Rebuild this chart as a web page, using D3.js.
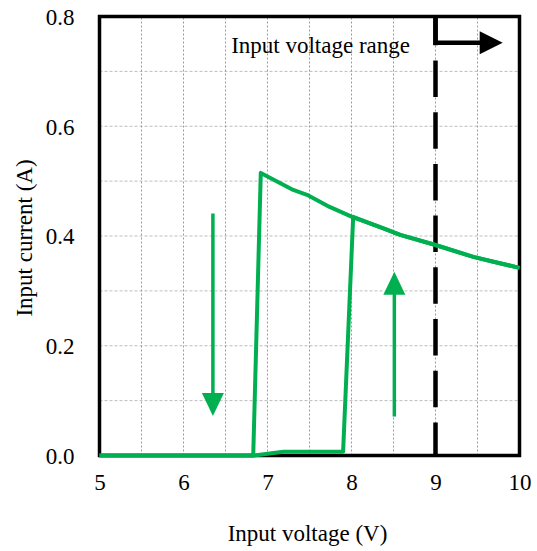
<!DOCTYPE html>
<html><head><meta charset="utf-8">
<script src="https://cdn.jsdelivr.net/npm/d3@7"></script>
<style>
html,body{margin:0;padding:0;background:#fff;}
svg{display:block;}
svg text{font-family:"Liberation Serif","Times New Roman",serif !important;fill:#000;}
</style></head>
<body>
<svg id="c" width="537" height="551"></svg>
<script>
// Data
const xTicks = [5, 6, 7, 8, 9, 10];
const yTicks = [0, 0.2, 0.4, 0.6, 0.8];
const xGrid = [5.5, 6, 6.5, 7, 7.5, 8, 8.5, 9, 9.5];
const yGrid = [0.1, 0.2, 0.3, 0.4, 0.5, 0.6, 0.7];
// Sweep down (decreasing input voltage)
const downV = [10, 9.69, 9.45, 8.99, 8.58, 8.38, 8.22, 8.02, 7.74, 7.47, 7.29, 6.92, 6.83, 5];
const downI = [0.342, 0.353, 0.362, 0.384, 0.402, 0.414, 0.423, 0.434, 0.453, 0.475, 0.485, 0.515, 0, 0];
// Sweep up (increasing input voltage)
const upV = [5, 6.83, 7.19, 7.90, 8.02, 8.22, 8.38, 8.58, 8.99, 9.45, 9.69, 10];
const upI = [0, 0, 0.007, 0.007, 0.435, 0.423, 0.414, 0.402, 0.384, 0.362, 0.353, 0.342];
// Direction arrows [V, I start, I end]
const arrowDown = [6.35, 0.441, 0.072];
const arrowUp = [8.51, 0.071, 0.335];
// Input voltage range marker
const rangeV = 9;
const rangeArrow = [9, 9.80, 0.752];
const rangeLabel = "Input voltage range";
const xTitle = "Input voltage (V)";
const yTitle = "Input current (A)";

const FS = 23;
const svg = d3.select("#c");
const x = d3.scaleLinear().domain([5, 10]).range([99.5, 519.5]);
const y = d3.scaleLinear().domain([0, 0.8]).range([455.5, 16.5]);
const green = "#00B050";

// grid
svg.append("g").selectAll("line").data(yGrid).join("line")
  .attr("x1", x(5)).attr("x2", x(10)).attr("y1", d => y(d)).attr("y2", d => y(d))
  .attr("stroke", "#bdbdbd").attr("stroke-width", 1).attr("stroke-dasharray", "3,2");
svg.append("g").selectAll("line").data(xGrid).join("line")
  .attr("y1", y(0)).attr("y2", y(0.8)).attr("x1", d => x(d)).attr("x2", d => x(d))
  .attr("stroke", "#9a9a9a").attr("stroke-width", 1).attr("stroke-dasharray", "2,2");

// axes (labels only; frame drawn separately)
const xAxis = d3.axisBottom(x).tickValues(xTicks).tickSize(0).tickFormat(d3.format("d"));
const gx = svg.append("g").attr("transform", `translate(0,${y(0)})`).call(xAxis)
  .attr("font-family", null).attr("font-size", null);
gx.select(".domain").remove();
gx.selectAll("text").attr("font-size", FS).attr("y", 34.5).attr("dy", null);

const yAxis = d3.axisLeft(y).tickValues(yTicks).tickSize(0).tickFormat(d3.format(".1f"));
const gy = svg.append("g").attr("transform", `translate(${x(5)},0)`).call(yAxis)
  .attr("font-family", null).attr("font-size", null);
gy.select(".domain").remove();
gy.selectAll("text").attr("font-size", FS).attr("x", -25).attr("dy", "0.34em");

// frame
svg.append("rect").attr("x", x(5)).attr("y", y(0.8))
  .attr("width", x(10) - x(5)).attr("height", y(0) - y(0.8))
  .attr("fill", "none").attr("stroke", "#000").attr("stroke-width", 3.5);

// range dashed line
svg.append("line").attr("x1", x(rangeV)).attr("x2", x(rangeV)).attr("y1", y(0.8)).attr("y2", y(0))
  .attr("stroke", "#000").attr("stroke-width", 4.5)
  .attr("stroke-dasharray", "36.5,15.2").attr("stroke-dashoffset", 7.7);
// bracket + arrow
const headLen = 23, headH = 23;
svg.append("path")
  .attr("d", `M${x(rangeArrow[0])},${y(0.8)}V${y(rangeArrow[2])}H${x(rangeArrow[1]) - headLen + 1}`)
  .attr("fill", "none").attr("stroke", "#000").attr("stroke-width", 4.5);
svg.append("path")
  .attr("d", `M${x(rangeArrow[1])},${y(rangeArrow[2])}L${x(rangeArrow[1]) - headLen},${y(rangeArrow[2]) - headH / 2}L${x(rangeArrow[1]) - headLen},${y(rangeArrow[2]) + headH / 2}Z`)
  .attr("fill", "#000");
svg.append("text").attr("x", 410).attr("y", 53).attr("text-anchor", "end")
  .attr("font-size", FS).text(rangeLabel);

// curves
const line = d3.line().x(d => x(d[0])).y(d => y(d[1]));
svg.append("path").datum(downV.map((v, i) => [v, downI[i]])).attr("d", line)
  .attr("fill", "none").attr("stroke", green).attr("stroke-width", 4).attr("stroke-linejoin", "round");
svg.append("path").datum(upV.map((v, i) => [v, upI[i]])).attr("d", line)
  .attr("fill", "none").attr("stroke", green).attr("stroke-width", 4).attr("stroke-linejoin", "round");

// direction arrows
function vArrow(a) {
  const [v, i0, i1] = a;
  const dir = Math.sign(y(i1) - y(i0));
  const hh = 23, hw = 22;
  svg.append("line").attr("x1", x(v)).attr("x2", x(v)).attr("y1", y(i0)).attr("y2", y(i1) - dir * (hh - 2))
    .attr("stroke", green).attr("stroke-width", 3.5);
  svg.append("path")
    .attr("d", `M${x(v)},${y(i1)}L${x(v) - hw / 2},${y(i1) - dir * hh}L${x(v) + hw / 2},${y(i1) - dir * hh}Z`)
    .attr("fill", green);
}
vArrow(arrowDown);
vArrow(arrowUp);

// titles
svg.append("text").attr("x", 307.5).attr("y", 541).attr("text-anchor", "middle")
  .attr("font-size", FS).text(xTitle);
svg.append("text").attr("transform", `translate(32,${(y(0) + y(0.8)) / 2 + 2}) rotate(-90)`)
  .attr("text-anchor", "middle").attr("font-size", FS).text(yTitle);
</script>
</body></html>
